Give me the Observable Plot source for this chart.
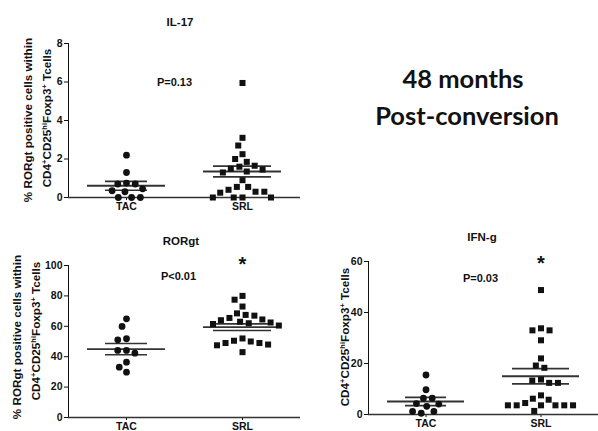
<!DOCTYPE html>
<html><head><meta charset="utf-8">
<script src="https://cdn.jsdelivr.net/npm/d3@7"></script>
<script src="https://cdn.jsdelivr.net/npm/@observablehq/plot@0.6"></script>
<style>
html,body{margin:0;padding:0;background:#fff;}
#fig{position:relative;width:598px;height:431px;overflow:hidden;font-family:"Liberation Sans",Arial,sans-serif;color:#111;}
.pan{position:absolute;}
.title{position:absolute;font-weight:bold;font-size:11.5px;transform:translate(-50%,-50%);white-space:nowrap;}
.ylab{position:absolute;font-weight:bold;font-size:11.7px;white-space:nowrap;line-height:1;transform:translate(-50%,-50%) rotate(-90deg);}
.ylab sup{font-size:7.5px;line-height:0;vertical-align:4px;}
.big{position:absolute;font-family:Lato,"Open Sans",sans-serif;font-weight:bold;font-size:25.5px;white-space:nowrap;transform:translate(-50%,-50%);color:#111;}
</style></head>
<body>
<div id="fig"></div>
<script>
// ---- data ----
const groups = ["TAC", "SRL"];

const il17TAC = [2.2, 1.3, 0.75, 0.7, 0.7, 0.45, 0.35, 0.3, 0, 0, 0];
const il17SRL = [5.95, 3.1, 2.7, 2.25, 2.0, 1.85, 1.65, 1.6, 1.5, 1.45, 1.35, 1.3, 0.9, 0.55, 0.55, 0.4, 0.3, 0.3, 0.25, 0, 0, 0, 0];
const il17Mean = [0.61, 1.35];
const il17Sem = [0.23, 0.28];

const rorTAC = [64.9, 59.9, 51.8, 51.1, 44.1, 44.1, 42.3, 36.4, 33.1, 29.8];
const rorSRL = [80, 77.5, 73, 68.5, 67.5, 67, 65.5, 64.5, 64, 63, 62.5, 62, 61.5, 60.5, 52, 50.5, 50, 49, 49, 48, 47.5, 43];
const rorMean = [45, 59.4];
const rorSem = [3.7, 2.2];

const ifnTAC = [15.5, 9.7, 6.4, 6.4, 4.3, 4.1, 3.2, 1.2, 1.2, 0.5];
const ifnSRL = [48.8, 33.8, 33.0, 33.0, 29.1, 22.0, 19.2, 18.3, 13.7, 13.3, 12.4, 12.4, 7.5, 6.2, 5.8, 4.5, 3.6, 3.6, 3.6, 3.6, 3.6, 3.6, 1.4];
const ifnMean = [5.1, 15.0];
const ifnSem = [1.6, 3.0];

const il17Ticks = [0, 2, 4, 6, 8];
const rorTicks = [0, 20, 40, 60, 80, 100];
const ifnTicks = [0, 20, 40, 60];

const pTexts = ["P=0.13", "P<0.01", "P=0.03"];

// ---- drawing ----
const capInset = [37, 29];
const lineColor = "#333";

function makePanel(o) {
  const pts = [
    ...o.tac.map(v => ({group: "TAC", value: v})),
    ...o.srl.map(v => ({group: "SRL", value: v}))
  ];
  const stats = groups.map((g, i) => ({group: g, mean: o.mean[i], sem: o.sem[i]}));
  const marks = [
    Plot.ruleY([0], {stroke: lineColor, strokeWidth: 1.6}),
    Plot.ruleY(stats, {fx: "group", y: "mean", insetLeft: 19, insetRight: 19, stroke: lineColor, strokeWidth: 1.8}),
    ...stats.map((s, i) => Plot.ruleY([s], {fx: "group", y: d => d.mean + d.sem, insetLeft: capInset[i], insetRight: capInset[i], stroke: lineColor, strokeWidth: 1.6})),
    ...stats.map((s, i) => Plot.ruleY([s], {fx: "group", y: d => d.mean - d.sem, insetLeft: capInset[i], insetRight: capInset[i], stroke: lineColor, strokeWidth: 1.6})),
    Plot.ruleX(stats, {fx: "group", y1: d => d.mean - d.sem, y2: d => d.mean + d.sem, stroke: lineColor, strokeWidth: 1.6}),
    Plot.dot(pts, Plot.dodgeX({anchor: "middle", padding: 2}, {fx: "group", y: "value", symbol: "group", r: 3.4, fill: "#111", stroke: "none"})),
    Plot.text([{group: "TAC", y: o.pY, t: o.pText}], {fx: "group", y: "y", text: "t", frameAnchor: "right", textAnchor: "middle", dx: o.pDx, fontSize: 11, fontWeight: "bold", fill: "#111"})
  ];
  if (o.starY != null) {
    marks.push(Plot.text([{group: "SRL", y: o.starY}], {fx: "group", y: "y", text: () => "*", fontSize: 20, fontWeight: "bold", fill: "#111"}));
  }
  return Plot.plot({
    width: o.width, height: o.height,
    marginLeft: o.marginLeft, marginRight: o.marginRight,
    marginTop: o.marginTop, marginBottom: o.marginBottom,
    style: {fontFamily: "Liberation Sans, Arial, sans-serif", fontSize: "10.5px", fontWeight: "bold", color: "#111", background: "transparent"},
    fx: {domain: groups, padding: 0, label: null, axis: "bottom", tickSize: 3, tickPadding: 2, fontSize: 10.5},
    y: {domain: o.domain, ticks: o.ticks, tickSize: 4, tickPadding: 2, label: null, line: true},
    symbol: {domain: groups, range: ["circle", "square"]},
    marks
  });
}

const fig = document.getElementById("fig");
function place(node, left, top) {
  const d = document.createElement("div");
  d.className = "pan";
  d.style.left = left + "px";
  d.style.top = top + "px";
  d.appendChild(node);
  fig.appendChild(d);
}
function addDiv(cls, html, x, y) {
  const d = document.createElement("div");
  d.className = cls;
  d.innerHTML = html;
  d.style.left = x + "px";
  d.style.top = y + "px";
  fig.appendChild(d);
}

place(makePanel({tac: il17TAC, srl: il17SRL, mean: il17Mean, sem: il17Sem, domain: [0, 8], ticks: il17Ticks,
  pText: pTexts[0], pY: 6.0, pDx: -10, starY: null,
  width: 302, height: 215, marginLeft: 68, marginRight: 2, marginTop: 43, marginBottom: 18}), 0, 0);

place(makePanel({tac: rorTAC, srl: rorSRL, mean: rorMean, sem: rorSem, domain: [0, 100], ticks: rorTicks,
  pText: pTexts[1], pY: 93, pDx: -6, starY: 100.5,
  width: 302, height: 216, marginLeft: 68, marginRight: 2, marginTop: 50, marginBottom: 14}), 0, 215);

place(makePanel({tac: ifnTAC, srl: ifnSRL, mean: ifnMean, sem: ifnSem, domain: [0, 60], ticks: ifnTicks,
  pText: pTexts[2], pY: 53.5, pDx: -3, starY: 59,
  width: 298, height: 216, marginLeft: 68, marginRight: 0, marginTop: 46, marginBottom: 17}), 300, 215);

// titles
addDiv("title", "IL-17", 180, 22);
addDiv("title", "RORgt", 181, 241);
addDiv("title", "IFN-g", 482, 237);

// y labels
const line1 = "% RORgt positive cells within";
const line2 = "CD4<sup>+</sup>CD25<sup>hi</sup>Foxp3<sup>+</sup> Tcells";
addDiv("ylab", line1, 28, 120);
addDiv("ylab", line2, 47, 118);
addDiv("ylab", line1, 17, 337);
addDiv("ylab", line2, 36, 331);
addDiv("ylab", line2, 345, 337);

// big annotation
addDiv("big", "48 months", 463, 78);
addDiv("big", "Post-conversion", 467, 115);
</script>
</body></html>
